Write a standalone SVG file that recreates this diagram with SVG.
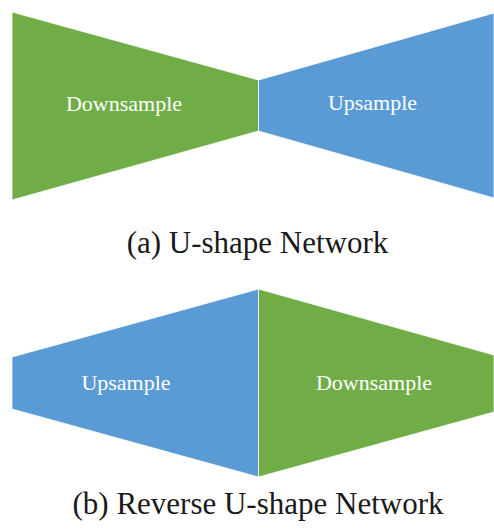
<svg xmlns="http://www.w3.org/2000/svg" width="494" height="530" viewBox="0 0 494 530">
  <style>
    .green { fill: #70AD47; stroke: #ffffff; stroke-width: 0.8; }
    .blue { fill: #5B9BD5; stroke: #ffffff; stroke-width: 0.8; }
    .label { font-family: "Liberation Serif", "Times New Roman", serif; font-size: 22px; fill: #ffffff; text-anchor: middle; }
    .caption { font-family: "Liberation Serif", "Times New Roman", serif; font-size: 31px; fill: #1a1a1a; text-anchor: middle; }
  </style>
  <rect width="494" height="530" fill="#ffffff"/>

  <!-- (a) U-shape network -->
  <g id="u-down">
    <polygon class="green" points="12,12 258.5,80 258.5,131 12,200"/>
    <text class="label" x="124" y="111">Downsample</text>
  </g>
  <g id="u-up">
    <polygon class="blue" points="258.5,80 494,13 494,198 258.5,131"/>
    <text class="label" x="372.5" y="110">Upsample</text>
  </g>
  <text id="caption-a" class="caption" x="257.5" y="253">(a) U-shape Network</text>

  <!-- (b) Reverse U-shape network -->
  <g id="ru-up">
    <polygon class="blue" points="12,357 258.5,289 258.5,477 12,409"/>
    <text class="label" x="126" y="390">Upsample</text>
  </g>
  <g id="ru-down">
    <polygon class="green" points="258.5,289 494,355 494,412 258.5,477"/>
    <text class="label" x="374" y="390">Downsample</text>
  </g>
  <text id="caption-b" class="caption" x="258" y="514">(b) Reverse U-shape Network</text>

  <g id="connectors"/>
</svg>
